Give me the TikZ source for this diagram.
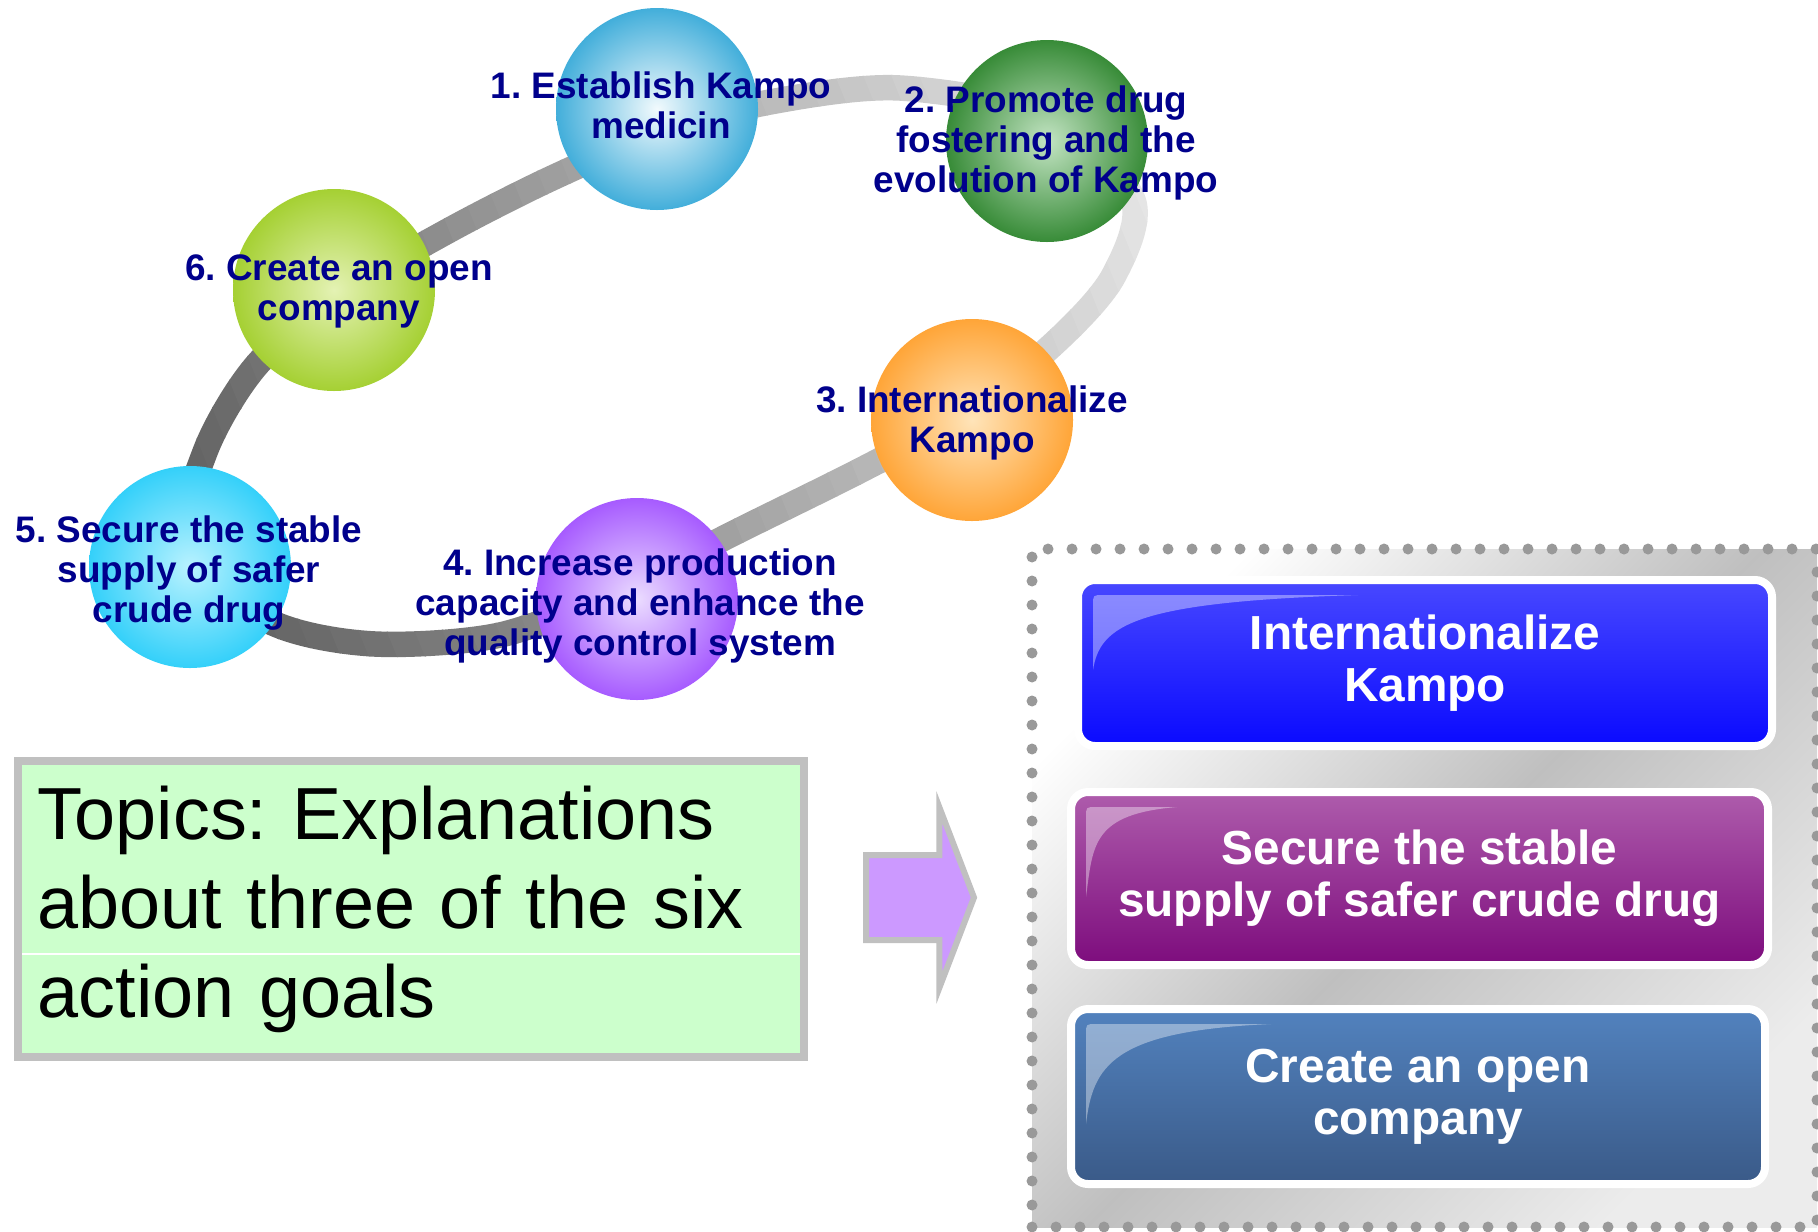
\documentclass[tikz,border=0pt]{standalone}
\usepackage{fontspec}
\setmainfont{Liberation Sans}
\usetikzlibrary{calc,shapes.arrows}
\frenchspacing

\definecolor{goalnavy}{RGB}{0,0,140}
\definecolor{mint}{RGB}{204,255,204}
\definecolor{boxgray}{RGB}{192,192,192}
\definecolor{lilac}{RGB}{204,153,255}
\definecolor{dotgray}{RGB}{153,153,153}
\definecolor{ball1in}{RGB}{242,250,253}\definecolor{ball1out}{RGB}{24,156,210}
\definecolor{ball2in}{RGB}{195,228,195}\definecolor{ball2out}{RGB}{22,118,22}
\definecolor{ball3in}{RGB}{255,228,185}\definecolor{ball3out}{RGB}{255,150,25}
\definecolor{ball4in}{RGB}{235,220,255}\definecolor{ball4out}{RGB}{150,60,255}
\definecolor{ball5in}{RGB}{185,242,255}\definecolor{ball5out}{RGB}{20,200,248}
\definecolor{ball6in}{RGB}{228,242,180}\definecolor{ball6out}{RGB}{150,200,20}
\definecolor{intltop}{RGB}{72,72,255}\definecolor{intlbot}{RGB}{10,10,255}
\definecolor{supplytop}{RGB}{174,92,172}\definecolor{supplybot}{RGB}{125,12,125}
\definecolor{opentop}{RGB}{82,130,190}\definecolor{openbot}{RGB}{58,90,136}

\makeatletter
\pgfdeclareradialshading[tikz@radial@inner,tikz@radial@outer]{goalball}{\pgfpointorigin}{color(0bp)=(tikz@radial@inner); color(31bp)=(tikz@radial@outer); color(50bp)=(tikz@radial@outer)}
\makeatother

\newcommand{\ringloop}{plot[smooth cycle,tension=0.5] coordinates {(182,560) (205,452) (255,367) (334,298) (446,232) (550,179) (660,132) (770,102) (900,88) (1055,118) (1133,200) (1114,275) (1062,336) (975,408) (865,468) (740,530) (620,590) (500,635) (375,644) (275,624)}}

\newcommand{\gloss}[3]{%
  \fill[white,fill opacity=0.38] ($(#1.north west)+(15,#3)$) -- ($(#1.north west)+(15,25)$) .. controls ($(#1.north west)+(15,15)$) .. ($(#1.north west)+(25,15)$) -- ($(#1.north west)+(#2,15)$) .. controls ($(#1.north west)+({0.2*#2},22)$) and ($(#1.north west)+(22,{0.5*#3})$) .. ($(#1.north west)+(15,#3)$) -- cycle;}

\begin{document}
\begin{tikzpicture}[x=0.1mm,y=-0.1mm,
		ring/.style={line width=2.55mm},
		goal ball/.style 2 args={circle,minimum size=20.2mm,inner sep=0pt,inner color=#1,outer color=#2,shading=goalball},
		goal label/.style={text=goalnavy,align=center,font=\bfseries\fontsize{10.5}{11.4}\selectfont},
		goal box/.style 2 args={rectangle,rounded corners=1.7mm,draw=white,line width=0.8mm,outer sep=0pt,top color=#1,bottom color=#2,text=white,align=center,font=\bfseries\fontsize{13.6}{14.8}\selectfont},
		topic box/.style={draw=boxgray,line width=0.8mm,fill=mint,minimum width=78.65mm,minimum height=29.65mm,text width=74.65mm,inner xsep=2mm,align=left,font=\fontsize{21}{25.3}\selectfont},
		panel/.style={minimum width=78.5mm,minimum height=67.8mm,inner sep=0pt,top color=white,bottom color=gray!15,middle color=gray!50,shading angle=45,draw=dotgray,line width=1.1mm,dash pattern=on 0pt off 2.4mm,line cap=round}]

		\useasboundingbox (0,0) rectangle (1818,1231);

		\foreach \i in {0,...,41}{
			\pgfmathsetmacro\lo{-60+26*\i}
			\pgfmathsetmacro\hi{\lo+27}
			\pgfmathsetmacro\lev{max(0,min(100,(100+0.13*(\lo+13))/2.55))}
			\begin{scope}
				\clip[rotate=22] (\lo,-3000) rectangle (\hi,3000);
				\draw[ring,white!\lev!black] \ringloop;
			\end{scope}
		}

		\node[goal ball={ball1in}{ball1out}] (1) at (657,109) {};
		\node[goal ball={ball2in}{ball2out}] (2) at (1047,141) {};
		\node[goal ball={ball3in}{ball3out}] (3) at (972,420) {};
		\node[goal ball={ball4in}{ball4out}] (4) at (637,599) {};
		\node[goal ball={ball5in}{ball5out}] (5) at (190,567) {};
		\node[goal ball={ball6in}{ball6out}] (6) at (334,290) {};

		\node[goal label] (l1) at (661,105) {1. Establish Kampo\\medicin};
		\node[goal label] (l2) at (1046,143) {2. Promote drug\\fostering and the\\evolution of Kampo};
		\node[goal label] (l3) at (972,423) {3. Internationalize\\Kampo};
		\node[goal label] (l4) at (640,606) {4. Increase production\\capacity and enhance the\\quality control system};
		\node[goal label] (l5) at (189,573) {5. Secure the stable\\supply of safer\\crude drug};
		\node[goal label] (l6) at (339,291) {6. Create an open\\company};

		\node[topic box] (topics) at (411,909) {Topics: Explanations\\about three of the six\\action goals};
		\draw[white,line width=0.15mm] ($(topics.west)+(8,45)$) -- ($(topics.east)+(-8,45)$);

		\node[single arrow,fill=lilac,draw=boxgray,line width=0.6mm,inner sep=0pt,inner ysep=3.95mm,minimum height=10.8mm,single arrow head extend=4.75mm,single arrow tip angle=138,outer sep=0pt,anchor=tail] (arrow) at (866,897.5) {};

		\node[panel] (panel) at (1424.5,888) {};

		\node[goal box={intltop}{intlbot},minimum width=69.4mm,minimum height=16.6mm] (A) at (1425,663) {Internationalize\\Kampo};
		\node[goal box={supplytop}{supplybot},minimum width=69.7mm,minimum height=17.3mm] (B) at (1419.5,878.5) {Secure the stable\\supply of safer crude drug};
		\node[goal box={opentop}{openbot},minimum width=69.4mm,minimum height=17.5mm] (C) at (1418,1096.5) {Create an open\\company};
		\gloss{A}{280}{90}
		\gloss{B}{106}{105}
		\gloss{C}{200}{115}
	\end{tikzpicture}
\end{document}
